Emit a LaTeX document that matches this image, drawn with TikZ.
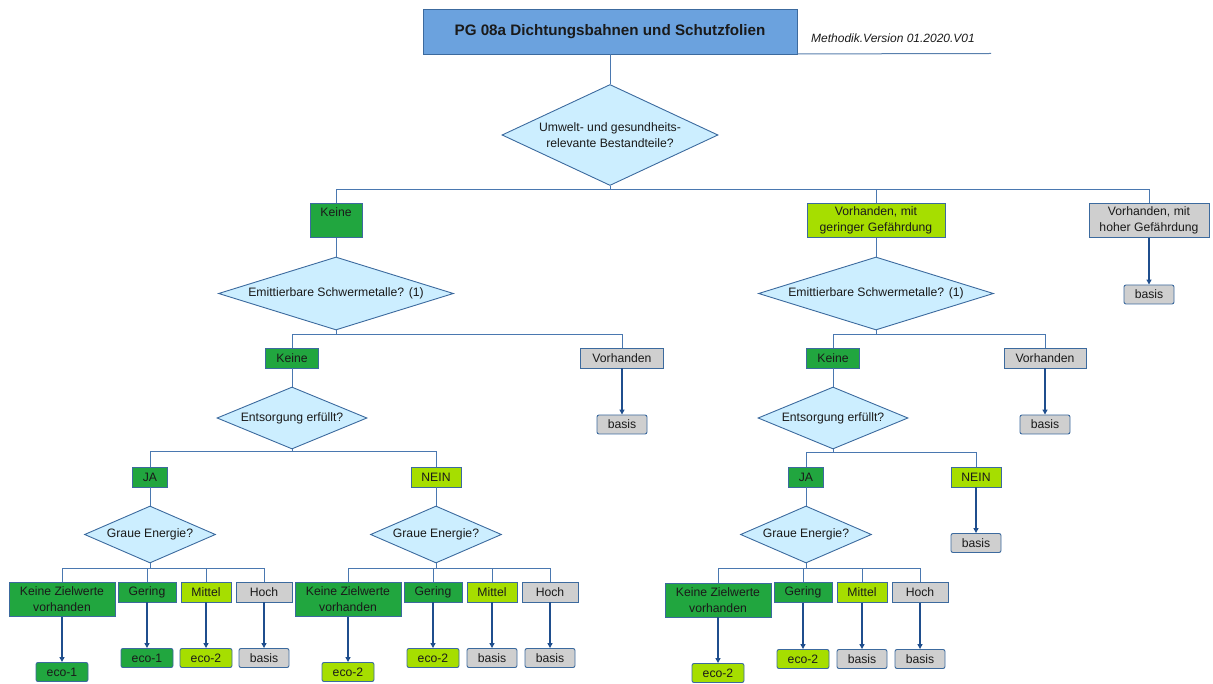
\documentclass[tikz,border=0pt]{standalone}
\usepackage{fontspec}
\setmainfont{Liberation Sans}
\usetikzlibrary{shapes.geometric,arrows.meta}
\definecolor{dkgreen}{HTML}{21A63F}
\definecolor{ltgreen}{HTML}{A6DE00}
\definecolor{gry}{HTML}{CFCFCF}
\definecolor{edge}{HTML}{3C6A9E}
\definecolor{diafill}{HTML}{CCEEFF}
\definecolor{titlefill}{HTML}{6BA2DE}
\definecolor{treeline}{HTML}{4A78B0}
\definecolor{arrowc}{HTML}{1F4E8D}
\definecolor{txt}{HTML}{1A1A1A}
\begin{document}
\begin{tikzpicture}[x=1pt,y=-1pt,
 every node/.style={font=\fontsize{12.2}{16}\selectfont, text=txt, inner sep=0pt, align=center},
 bx/.style={draw=edge, line width=0.9pt, rectangle, minimum height=20pt},
 bxt/.style={bx, minimum height=34pt},
 dg/.style={fill=dkgreen}, lg/.style={fill=ltgreen}, gy/.style={fill=gry},
 res/.style={draw=edge, line width=0.9pt, rounded corners=2pt, minimum height=19pt, minimum width=50pt},
 dia/.style={diamond, draw=edge, line width=0.9pt, fill=diafill},
 tree/.style={draw=treeline, line width=0.8pt},
 arr/.style={draw=arrowc, line width=1.8pt, -{Triangle[length=5pt,width=5pt]}},
]
\useasboundingbox (0,0) rectangle (1213,684);
% title
\node[draw=edge, line width=0.9pt, fill=titlefill, minimum width=374pt, minimum height=45pt,
      font=\bfseries\fontsize{15.2}{18}\selectfont] (title) at (610,31.5) {PG 08a Dichtungsbahnen und Schutzfolien};
\node[anchor=base west, font=\itshape\fontsize{12}{14}\selectfont] (meth) at (811,43) {Methodik.Version 01.2020.V01};
\coordinate (mline) at (991,53.5);
\draw[draw=edge!85, line width=1pt] (title.south east) ++(0,-0.5) -- (mline);
% level 0
\node[dia, minimum width=216pt, minimum height=101pt, aspect=2.14] (d1) at (610,135) {Umwelt- und gesundheits-\\relevante Bestandteile?};
% level 1
\node[bxt,dg,minimum width=52pt] (k1) at (336,220.5) {Keine\\\mbox{}};
\node[bxt,lg,minimum width=138pt] (v1) at (876,220.5) {Vorhanden, mit\\geringer Gefährdung};
\node[bxt,gy,minimum width=120pt] (h1) at (1149,220.5) {Vorhanden, mit\\hoher Gefährdung};
\node[res,gy] (bh1) at (1149,294.5) {basis};
% level 2
\node[dia, minimum width=235pt, minimum height=73pt, aspect=3.2] (d2L) at (336,293.5) {Emittierbare Schwermetalle? (1)};
\node[dia, minimum width=235pt, minimum height=73pt, aspect=3.2] (d2R) at (876,293.5) {Emittierbare Schwermetalle? (1)};
\node[bx,dg,minimum width=53pt] (k2L) at (292,358) {Keine};
\node[bx,gy,minimum width=83pt] (vh2L) at (622,358) {Vorhanden};
\node[res,gy] (bL2) at (622,424.5) {basis};
\node[bx,dg,minimum width=53pt] (k2R) at (833,358) {Keine};
\node[bx,gy,minimum width=82pt] (vh2R) at (1045,358) {Vorhanden};
\node[res,gy] (bR2) at (1045,424.5) {basis};
% level 3
\node[dia, minimum width=150pt, minimum height=62pt, aspect=2.4] (d3L) at (292,418) {Entsorgung erfüllt?};
\node[dia, minimum width=150pt, minimum height=62pt, aspect=2.4] (d3R) at (833,418) {Entsorgung erfüllt?};
\node[bx,dg,minimum width=35pt] (jaL) at (150,477) {JA};
\node[bx,lg,minimum width=50pt] (neinL) at (436,477) {NEIN};
\node[bx,dg,minimum width=35pt] (jaR) at (806,477) {JA};
\node[bx,lg,minimum width=50pt] (neinR) at (976,477) {NEIN};
\node[res,gy] (bR3) at (976,543) {basis};
% level 4 diamonds
\node[dia, minimum width=131pt, minimum height=57pt, aspect=2.3] (d4L) at (150,534.5) {Graue Energie?};
\node[dia, minimum width=131pt, minimum height=57pt, aspect=2.3] (d4M) at (436,534.5) {Graue Energie?};
\node[dia, minimum width=131pt, minimum height=57pt, aspect=2.3] (d4R) at (806,534.5) {Graue Energie?};
% level 4 boxes L
\node[bxt,dg,minimum width=106pt] (zlL) at (62,599.5) {Keine Zielwerte\\vorhanden};
\node[bx,dg,minimum width=58pt] (geL) at (147,592) {Gering};
\node[bx,lg,minimum width=50pt] (miL) at (206,592) {Mittel};
\node[bx,gy,minimum width=56pt] (hoL) at (264,592) {Hoch};
\node[res,dg,minimum width=52pt] (rzlL) at (62,672) {eco-1};
\node[res,dg,minimum width=52pt] (rgeL) at (147,658) {eco-1};
\node[res,lg,minimum width=52pt] (rmiL) at (206,658) {eco-2};
\node[res,gy] (rhoL) at (264,658) {basis};
% level 4 boxes M
\node[bxt,dg,minimum width=106pt] (zlM) at (348,599.5) {Keine Zielwerte\\vorhanden};
\node[bx,dg,minimum width=58pt] (geM) at (433,592) {Gering};
\node[bx,lg,minimum width=50pt] (miM) at (492,592) {Mittel};
\node[bx,gy,minimum width=56pt] (hoM) at (550,592) {Hoch};
\node[res,lg,minimum width=52pt] (rzlM) at (348,672) {eco-2};
\node[res,lg,minimum width=52pt] (rgeM) at (433,658) {eco-2};
\node[res,gy] (rmiM) at (492,658) {basis};
\node[res,gy] (rhoM) at (550,658) {basis};
% level 4 boxes R
\node[bxt,dg,minimum width=106pt] (zlR) at (718,600) {Keine Zielwerte\\vorhanden};
\node[bx,dg,minimum width=58pt] (geR) at (803,592.5) {Gering};
\node[bx,lg,minimum width=50pt] (miR) at (862,592.5) {Mittel};
\node[bx,gy,minimum width=56pt] (hoR) at (920,592.5) {Hoch};
\node[res,lg,minimum width=52pt] (rzlR) at (718,673) {eco-2};
\node[res,lg,minimum width=52pt] (rgeR) at (803,659) {eco-2};
\node[res,gy] (rmiR) at (862,659) {basis};
\node[res,gy] (rhoR) at (920,659) {basis};
% tree connectors
\draw[tree] (title.south) -- (d1.north);
\foreach \c in {k1,v1,h1} \draw[tree] (d1.south) -- ++(0,3) -| (\c.north);
\draw[tree] (k1.south) -- (d2L.north);
\draw[tree] (v1.south) -- (d2R.north);
\foreach \c in {k2L,vh2L} \draw[tree] (d2L.south) -- ++(0,3.5) -| (\c.north);
\foreach \c in {k2R,vh2R} \draw[tree] (d2R.south) -- ++(0,3.5) -| (\c.north);
\draw[tree] (k2L.south) -- (d3L.north);
\draw[tree] (k2R.south) -- (d3R.north);
\foreach \c in {jaL,neinL} \draw[tree] (d3L.south) -- ++(0,2) -| (\c.north);
\foreach \c in {jaR,neinR} \draw[tree] (d3R.south) -- ++(0,3) -| (\c.north);
\draw[tree] (jaL.south) -- (d4L.north);
\draw[tree] (neinL.south) -- (d4M.north);
\draw[tree] (jaR.south) -- (d4R.north);
\foreach \s in {L,M,R} {
  \foreach \c in {zl,ge,mi,ho} \draw[tree] (d4\s.south) -- ++(0,4.5) -| (\c\s.north);
  \foreach \c in {zl,ge,mi,ho} \draw[arr] (\c\s.south) -- (r\c\s.north);
}
% arrows
\draw[arr] (h1.south) -- (bh1.north);
\draw[arr] (vh2L.south) -- (bL2.north);
\draw[arr] (vh2R.south) -- (bR2.north);
\draw[arr] (neinR.south) -- (bR3.north);
\end{tikzpicture}
\end{document}
